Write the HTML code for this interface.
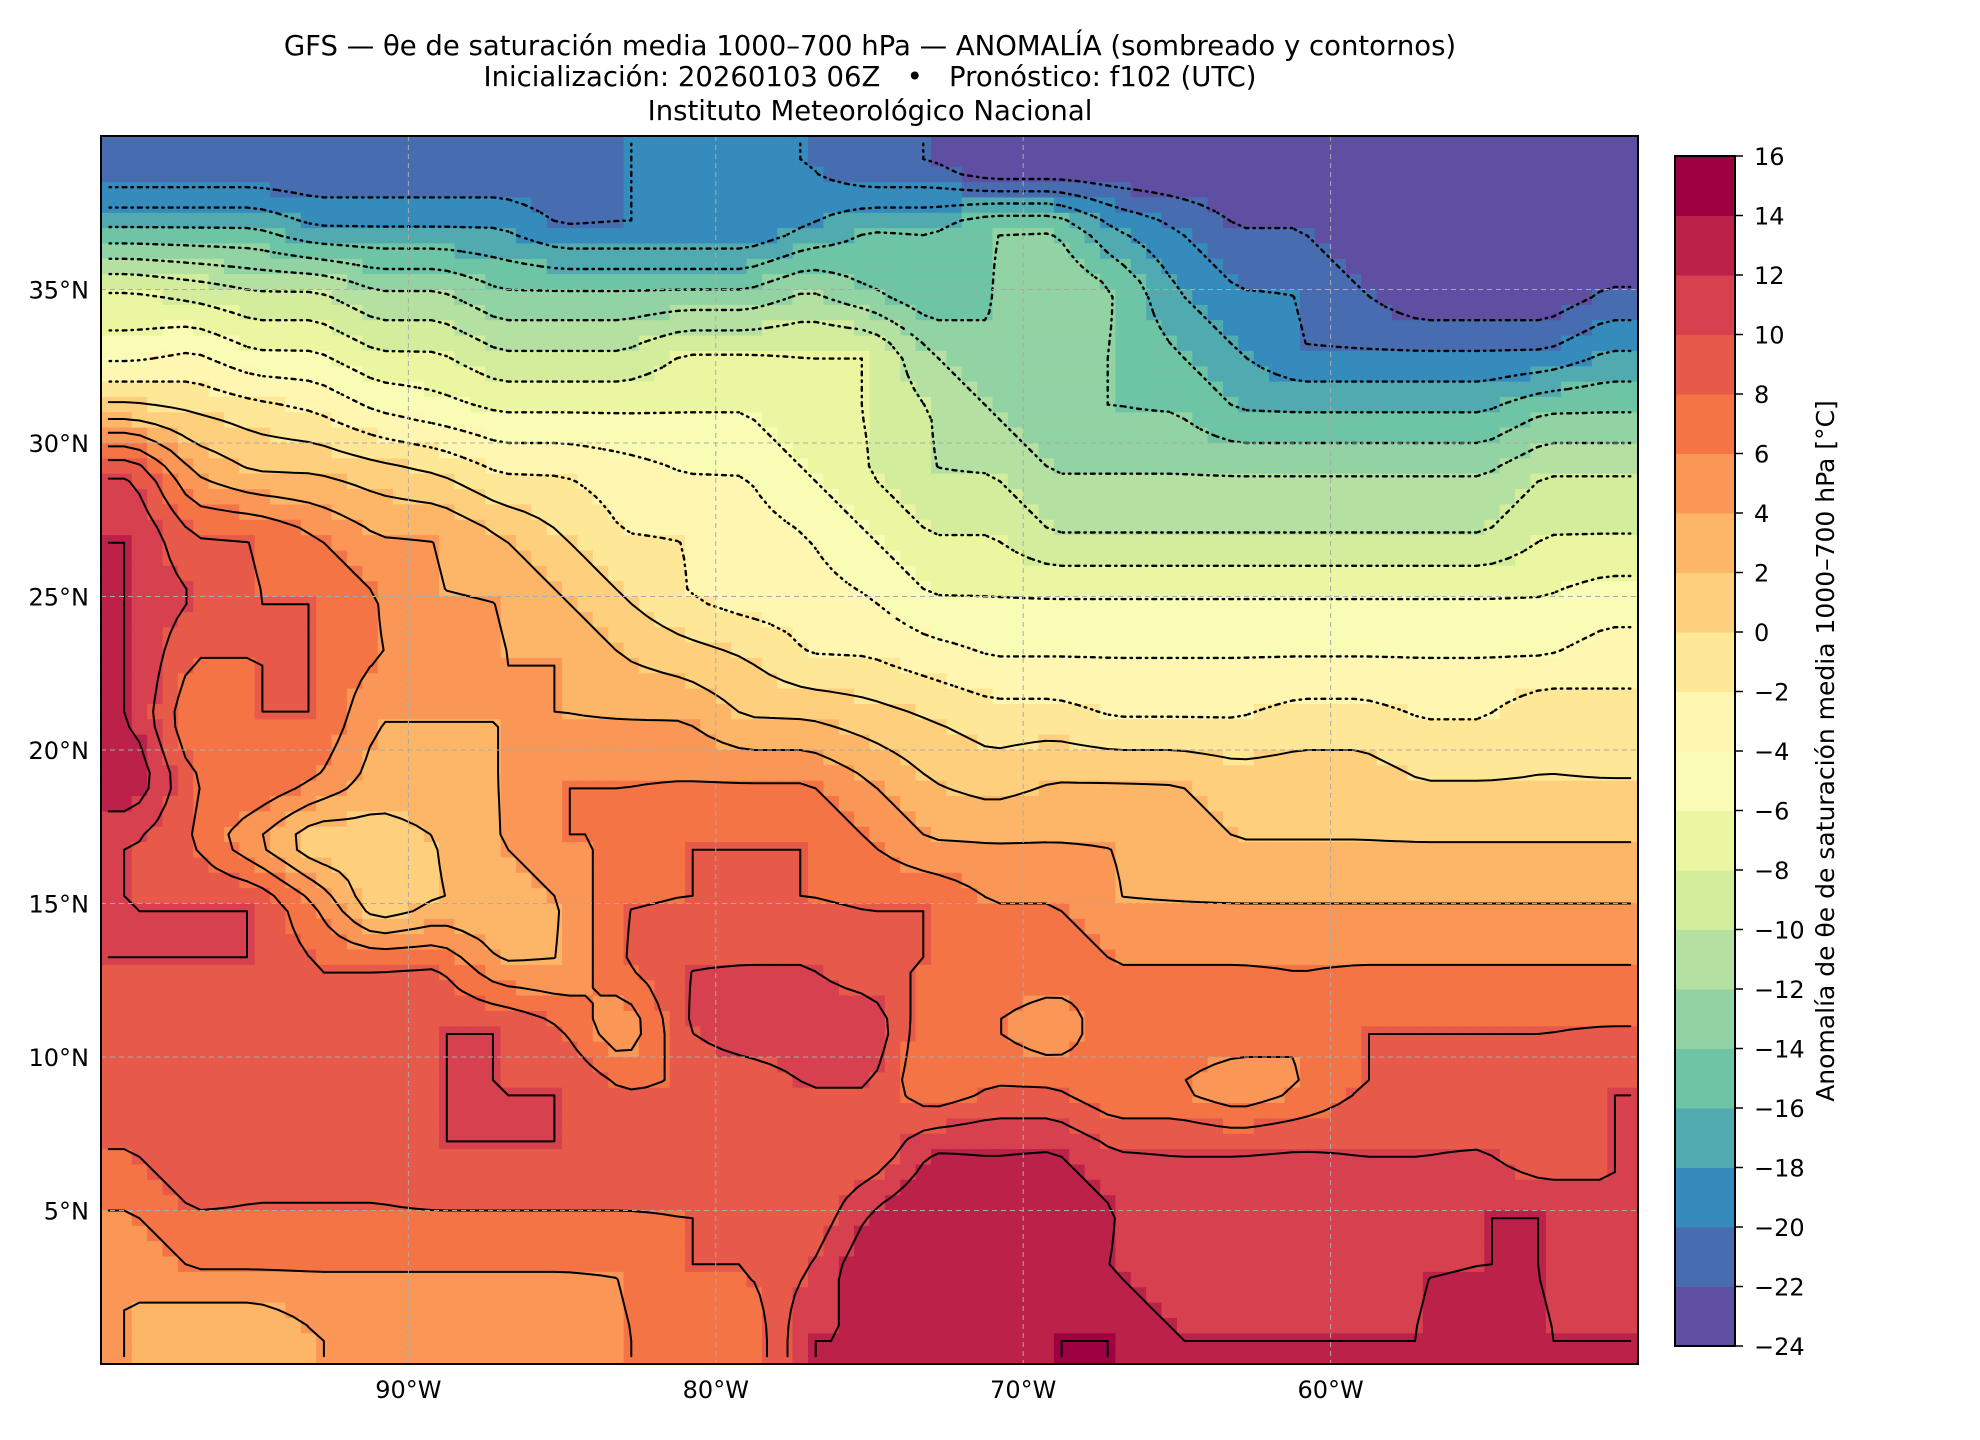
<!DOCTYPE html>
<html><head><meta charset="utf-8"><style>
body{margin:0;background:#fff;}
svg{display:block;font-family:"DejaVu Sans","Liberation Sans",sans-serif;}
</style></head><body>
<svg id="fig" width="1980" height="1440" viewBox="0 0 1980 1440" xmlns="http://www.w3.org/2000/svg">
<rect width="1980" height="1440" fill="#fff"/>
<g font-size="27.5" text-anchor="middle" fill="#000">
<text x="870" y="55">GFS — θe de saturación media 1000–700 hPa — ANOMALÍA (sombreado y contornos)</text>
<text x="870" y="86" xml:space="preserve">Inicialización: 20260103 06Z   •   Pronóstico: f102 (UTC)</text>
<text x="870" y="120">Instituto Meteorológico Nacional</text>
</g>
<defs><clipPath id="pc"><rect x="101" y="136" width="1537" height="1228"/></clipPath></defs>
<g id="field" clip-path="url(#pc)"></g>
<g id="contours" clip-path="url(#pc)"></g>
<g id="grid"></g>
<rect x="101" y="136" width="1537" height="1228" fill="none" stroke="#000" stroke-width="2"/>
<g id="axes" font-size="24" fill="#000"></g>
<g id="cbar"></g>
<text transform="translate(1834,751) rotate(-90)" font-size="25" text-anchor="middle">Anomalía de θe de saturación media 1000–700 hPa [°C]</text>
</svg>
<script>
const lons=[-99,-97,-95,-93,-91,-89,-87,-85,-83,-81,-79,-77,-75,-73,-71,-69,-67,-65,-63,-61,-59,-57,-55,-53,-51];
const lats=[39,37,35,33,31,29,27,25,23,21,19,17,15,13,11,9,7,5,3,1];
const row39=[-22,-22,-22,-22,-22,-22,-22,-22,-20,-20,-20,-20,-22,-22,-24,-24,-24,-24,-24,-24,-24,-24,-24,-24,-24];
const row37=[-16,-16,-16,-18,-18,-18,-18,-20,-20,-20,-20,-18,-16,-16,-14,-14,-18,-20,-22,-22,-24,-24,-24,-24,-24];
const row35=[-8,-9,-10,-10,-12,-12,-14,-14,-14,-14,-14,-12,-14,-16,-14,-12,-14,-18,-20,-20,-22,-24,-24,-24,-22];
const row33=[-5,-4,-6,-6,-8,-8,-10,-10,-10,-8,-8,-8,-8,-12,-14,-14,-14,-16,-18,-20,-20,-20,-20,-20,-18];
const row31=[1,0,-1,-2,-4,-5,-6,-6,-6,-6,-6,-8,-8,-10,-12,-14,-14,-14,-16,-16,-16,-16,-16,-14,-14];
const row29=[10,4,2,2,1,0,-2,-2,-3,-4,-4,-6,-8,-10,-10,-12,-12,-12,-12,-12,-12,-12,-12,-10,-10];
const row27=[12,8,8,6,4,4,2,0,-2,-2,-3,-4,-6,-8,-8,-10,-10,-10,-10,-10,-10,-10,-10,-8,-8];
const row25=[12,10,8,8,6,4,4,2,0,-2,-3,-3,-4,-6,-6,-6,-6,-6,-6,-6,-6,-6,-6,-6,-5];
const row23=[12,8,8,8,6,6,4,4,2,1,0,-2,-2,-3,-4,-4,-4,-4,-4,-4,-4,-4,-4,-4,-3];
const row21=[12,6,8,8,4,4,4,4,4,4,2,2,1,0,-1,-1,-2,-2,-2,-1,-1,-2,-2,0,-1];
const row19=[14,8,8,6,3,3,4,6,6,6,6,6,4,2,1,2,2,2,1,1,1,0,0,0,0];
const row17=[10,8,4,0,1,2,4,6,6,8,8,8,6,4,4,4,4,3,2,2,2,2,2,2,2];
const row15=[10,10,10,6,0,2,2,4,8,8,8,8,8,8,6,6,4,4,4,4,4,4,4,4,4];
const row13=[10,10,10,8,8,8,4,4,8,10,10,10,8,8,8,8,6,6,6,6,6,6,6,6,6];
const row11=[8,10,8,8,8,10,10,8,4,10,12,12,12,6,6,4,8,8,8,6,8,8,8,8,8];
const row9=[10,10,8,8,10,10,10,10,8,8,8,10,10,6,8,8,6,6,4,6,8,8,8,8,10];
const row7=[8,10,8,8,8,10,10,10,10,10,8,8,8,12,12,12,10,10,10,10,10,10,10,8,10];
const row5=[6,8,8,8,8,8,8,8,8,8,8,8,12,14,12,14,12,10,10,12,10,10,12,12,10];
const row3=[4,6,6,6,6,6,6,6,6,8,8,10,14,12,12,12,12,10,10,12,10,12,12,12,10];
const row1=[4,2,2,4,4,4,4,4,6,6,6,12,12,12,12,14,14,12,12,12,12,12,14,12,12];
const values=[row39,row37,row35,row33,row31,row29,row27,row25,row23,row21,row19,row17,row15,row13,row11,row9,row7,row5,row3,row1];
const cbarTicks=[16,14,12,10,8,6,4,2,0,-2,-4,-6,-8,-10,-12,-14,-16,-18,-20,-22,-24];
const latTicks=[35,30,25,20,15,10,5];
const lonTicks=[-90,-80,-70,-60];

const NS='http://www.w3.org/2000/svg';
const X0=101,X1=1638,Y0=136,Y1=1364;
function px(lon){return X0+(lon+100)/50*(X1-X0);}
function py(lat){return Y0+(40-lat)/40*(Y1-Y0);}
const anchors=['9e0142','d53e4f','f46d43','fdae61','fee08b','ffffbf','e6f598','abdda4','66c2a5','3288bd','5e4fa2'].map(h=>[parseInt(h.slice(0,2),16),parseInt(h.slice(2,4),16),parseInt(h.slice(4),16)]);
function spectral(t){const f=t*10,i=Math.min(9,Math.floor(f)),r=f-i;const a=anchors[i],b=anchors[i+1];return 'rgb('+[0,1,2].map(k=>Math.round(a[k]+(b[k]-a[k])*r)).join(',')+')';}
function binColor(v){let k=Math.floor((v+24)/2);k=Math.max(0,Math.min(19,k));return spectral(1-k/19);}
function mk(tag,attrs,parent){const e=document.createElementNS(NS,tag);for(const a in attrs)e.setAttribute(a,attrs[a]);parent.appendChild(e);return e;}
function sample(lon,lat){
  let fi=(lon-lons[0])/2,fj=(lats[0]-lat)/2;
  fi=Math.max(0,Math.min(lons.length-1,fi));fj=Math.max(0,Math.min(lats.length-1,fj));
  const i0=Math.min(lons.length-2,Math.floor(fi)),j0=Math.min(lats.length-2,Math.floor(fj));
  const a=fi-i0,b=fj-j0;
  return values[j0][i0]*(1-a)*(1-b)+values[j0][i0+1]*a*(1-b)+values[j0+1][i0]*(1-a)*b+values[j0+1][i0+1]*a*b;
}
const field=document.getElementById('field');
const st=0.5,nx=100,ny=80;const fine=[];
for(let j=0;j<ny;j++){fine.push([]);for(let i=0;i<nx;i++){
  const lon=-100+st*(i+0.5),lat=40-st*(j+0.5);const v=sample(lon,lat);fine[j].push(v);
  const r=mk('rect',{x:px(lon-st/2).toFixed(1),y:py(lat+st/2).toFixed(1),width:(px(st)-px(0)+0.8).toFixed(1),height:(py(0)-py(st)+0.8).toFixed(1),fill:binColor(v)},field);
  
  
}}
const cg=document.getElementById('contours');
function cx(i){return px(-100+st*(i+0.5));}function cy(j){return py(40-st*(j+0.5));}
for(let L=-24;L<=16;L+=2){
  let d='';
  for(let j=0;j<ny-1;j++)for(let i=0;i<nx-1;i++){
    const v=[fine[j][i],fine[j][i+1],fine[j+1][i+1],fine[j+1][i]];
    const pts=[[cx(i),cy(j)],[cx(i+1),cy(j)],[cx(i+1),cy(j+1)],[cx(i),cy(j+1)]];
    const cr=[];
    for(let e=0;e<4;e++){const a=v[e],b=v[(e+1)%4];if((a<L)!==(b<L)){const t=(L-a)/(b-a);const p=pts[e],q=pts[(e+1)%4];cr.push([p[0]+(q[0]-p[0])*t,p[1]+(q[1]-p[1])*t]);}}
    for(let k=0;k+1<cr.length;k+=2)d+='M'+cr[k][0].toFixed(1)+' '+cr[k][1].toFixed(1)+'L'+cr[k+1][0].toFixed(1)+' '+cr[k+1][1].toFixed(1);
  }
  if(d){const p=mk('path',{d:d,fill:'none',stroke:'#000','stroke-width':L<0?2.4:2,'stroke-dasharray':L<0?'1.5,5':'none','stroke-linecap':'round'},cg);
  
  }
}
const g=document.getElementById('grid'),ax=document.getElementById('axes');
lonTicks.forEach(l=>{const x=px(l);
  const ln=mk('line',{x1:x,x2:x,y1:Y0,y2:Y1,stroke:'#aaa','stroke-width':1,'stroke-dasharray':'5,4'},g);
  
  
  const t=mk('text',{x:x,y:1398,'text-anchor':'middle'},ax);t.textContent=(-l)+'°W';
  
  });
latTicks.forEach(l=>{const y=py(l);
  const ln=mk('line',{x1:X0,x2:X1,y1:y,y2:y,stroke:'#aaa','stroke-width':1,'stroke-dasharray':'5,4'},g);
  
  
  const t=mk('text',{x:89,y:y+9,'text-anchor':'end'},ax);t.textContent=l+'°N';
  
  });
const cb=document.getElementById('cbar');const CX=1675,CW=60,CT=156,CB=1346;
function cyv(v){return CT+(16-v)/40*(CB-CT);}
for(let k=0;k<20;k++){const lo=-24+2*k;
  const r=mk('rect',{x:CX,y:cyv(lo+2),width:CW,height:cyv(lo)-cyv(lo+2)+0.5,fill:binColor(lo+1)},cb);
  
  }
const fr=mk('rect',{x:CX,y:CT,width:CW,height:CB-CT,fill:'none',stroke:'#000','stroke-width':2},cb);


cbarTicks.forEach(v=>{const y=cyv(v);
  const tl=mk('line',{x1:CX+CW,x2:CX+CW+8,y1:y,y2:y,stroke:'#000','stroke-width':1.5},cb);
  
  
  const t=mk('text',{x:1754,y:y+9,'font-size':24},cb);t.textContent=v<0?'−'+(-v):String(v);
  
  });
</script>
</body></html>
